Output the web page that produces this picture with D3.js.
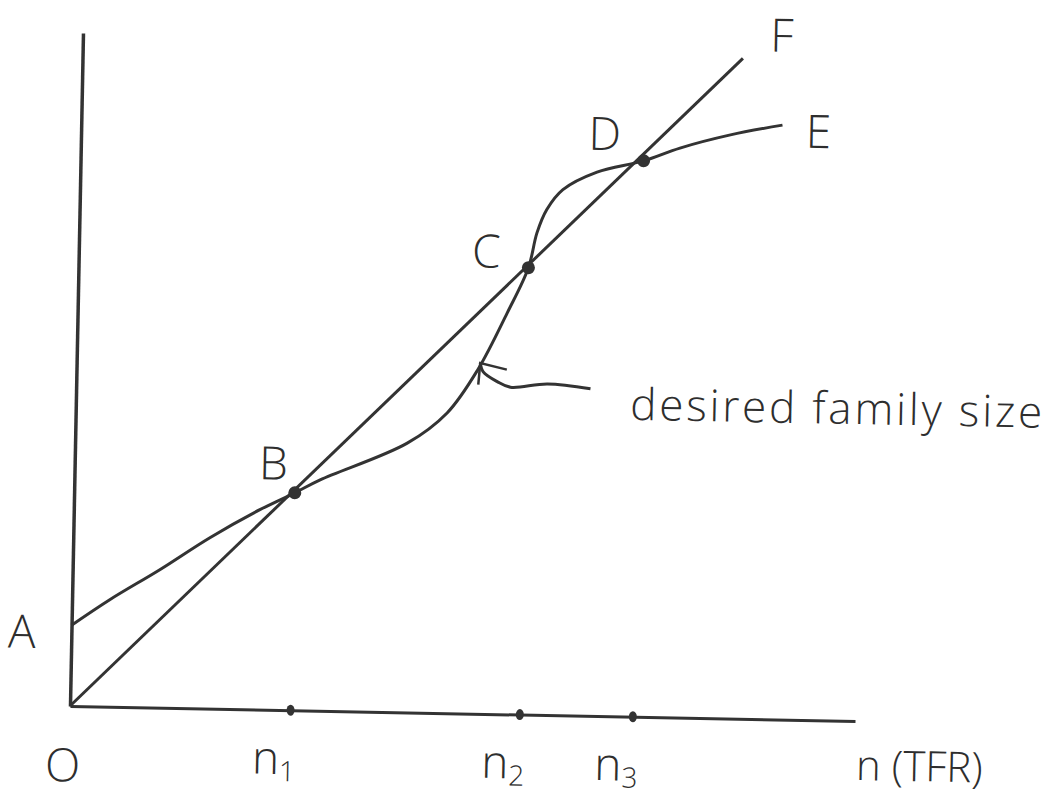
<!DOCTYPE html>
<html>
<head>
<meta charset="utf-8">
<script src="https://cdn.jsdelivr.net/npm/d3@7"></script>
<style>
  body { margin: 0; background: #fff; }
  svg text { font-family: "Open Sans", "DejaVu Sans", sans-serif; font-weight: 300; fill: #2e2e2e; }
</style>
</head>
<body>
<div id="chart"></div>
<script>
// values, in axis units (both axes 0..10)
var curveX = [0, 0.48, 1.11, 1.74, 2.37, 2.81, 3.13, 4.23, 4.73, 5.11, 5.47, 5.73, 5.83, 5.95, 6.15, 6.58, 7.17, 7.63, 8.27, 8.93];
var curveY = [1.20, 1.59, 2.05, 2.54, 2.97, 3.23, 3.43, 4.00, 4.46, 5.11, 5.96, 6.64, 7.16, 7.51, 7.81, 8.08, 8.26, 8.46, 8.67, 8.83];

var lineX = [0, 8.41];
var lineY = [0, 9.81];

var pointNames = ["B", "C", "D"];
var pointX = [2.81, 5.73, 7.17];
var pointY = [3.23, 6.64, 8.26];

var tickValues = [2.81, 5.73, 7.17];
var tickSubs = ["1", "2", "3"];

var labelText = ["A", "O", "B", "C", "D", "E", "F"];
var labelX = [-0.63, -0.08, 2.53, 5.19, 6.67, 9.39, 8.90];
var labelY = [0.85, -1.12, 3.42, 6.63, 8.41, 8.50, 9.92];

// arrow pointing at the curve
var arrowX = [5.14, 5.18, 5.36, 5.53, 6.00, 6.55];
var arrowY = [5.21, 5.08, 4.94, 4.86, 4.92, 4.86];
var barbX = [5.48, 5.14, 5.12];
var barbY = [5.12, 5.21, 4.89];

var width = 1058, height = 797;
var ink = "#333";

var svg = d3.select("#chart").append("svg")
    .attr("width", width)
    .attr("height", height);

var x = d3.scaleLinear().domain([0, 10]).range([0, 785]);
var y = d3.scaleLinear().domain([0, 10]).range([0, -673]);

// hand drawn axes are a little out of square
var g = svg.append("g")
    .attr("transform", "matrix(1,0.0191,-0.0193,1,70,706)");

var xAxis = g.append("g")
    .call(d3.axisBottom(x).tickValues(tickValues).tickSize(0).tickSizeOuter(0));
xAxis.select(".domain").attr("stroke", ink).attr("stroke-width", 3);
xAxis.selectAll(".tick text").each(function (d, i) {
    var t = d3.select(this).text(null)
        .attr("font-size", 46).attr("fill", ink).attr("dy", 0).attr("y", 64)
        .attr("text-anchor", "start").attr("x", -38);
    t.append("tspan").text("n");
    t.append("tspan").text(tickSubs[i]).attr("font-size", 28).attr("dy", 7);
});

var yAxis = g.append("g")
    .call(d3.axisLeft(y).tickValues([]).tickSizeOuter(0));
yAxis.select(".domain").attr("stroke", ink).attr("stroke-width", 3.5);

// tick dots on the x axis
g.selectAll(".tickdot")
    .data(tickValues)
    .join("ellipse")
    .attr("cx", d => x(d))
    .attr("cy", 0)
    .attr("rx", 4)
    .attr("ry", 5.5)
    .attr("fill", ink);

var line = d3.line()
    .x(d => x(d[0]))
    .y(d => y(d[1]));

g.append("path")
    .datum(d3.zip(lineX, lineY))
    .attr("d", line)
    .attr("fill", "none")
    .attr("stroke", ink)
    .attr("stroke-width", 3);

var smooth = d3.line()
    .x(d => x(d[0]))
    .y(d => y(d[1]))
    .curve(d3.curveCatmullRom.alpha(0.5));

g.append("path")
    .datum(d3.zip(curveX, curveY))
    .attr("d", smooth)
    .attr("fill", "none")
    .attr("stroke", ink)
    .attr("stroke-width", 3);

g.append("path")
    .datum(d3.zip(arrowX, arrowY))
    .attr("d", smooth)
    .attr("fill", "none")
    .attr("stroke", ink)
    .attr("stroke-width", 3);

g.append("path")
    .datum(d3.zip(barbX, barbY))
    .attr("d", line)
    .attr("fill", "none")
    .attr("stroke", ink)
    .attr("stroke-width", 2.5);

g.selectAll(".pt")
    .data(d3.zip(pointX, pointY))
    .join("circle")
    .attr("cx", d => x(d[0]))
    .attr("cy", d => y(d[1]))
    .attr("r", 6.5)
    .attr("fill", ink);

g.selectAll(".lbl")
    .data(labelText)
    .join("text")
    .attr("x", (d, i) => x(labelX[i]))
    .attr("y", (d, i) => y(labelY[i]))
    .attr("text-anchor", "middle")
    .attr("font-size", 46)
    .text(d => d);

g.append("text")
    .attr("x", x(10) + 2)
    .attr("y", 59)
    .attr("font-size", 42)
    .text("n (TFR)");

g.append("text")
    .attr("x", x(7.06))
    .attr("y", y(4.41))
    .attr("font-size", 44)
    .attr("textLength", 412)
    .attr("lengthAdjust", "spacing")
    .text("desired family size");
</script>
</body>
</html>
